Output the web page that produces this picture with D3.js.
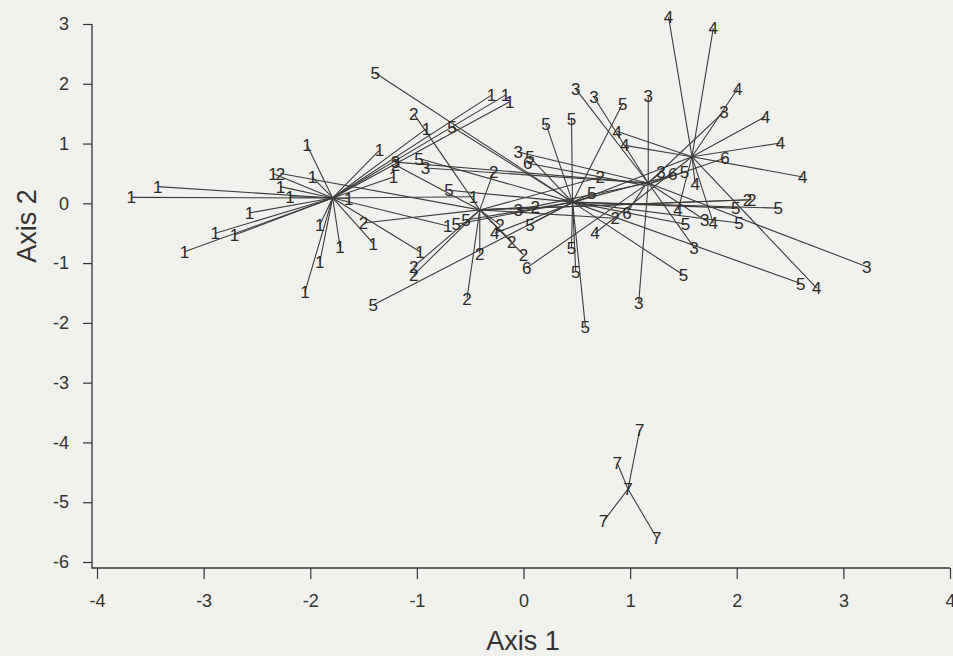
<!DOCTYPE html>
<html lang="en">
<head>
  <meta charset="UTF-8">
  <title>Spider plot</title>
  <script src="https://d3js.org/d3.v7.min.js"></script>
  <style>
    body {
      margin: 0;
      padding: 0;
      background-color: #f1f1ed;
      font-family: "Liberation Sans", Arial, sans-serif;
    }

    .axis text {
      fill: #333;
      font-size: 18px;
    }

    .axis line {
      stroke: #333;
      stroke-width: 1.2;
    }

    .axis-label {
      fill: #333;
      font-size: 27px;
    }

    .spoke {
      stroke: #3c3c3c;
      stroke-width: 1.1;
    }

    .pt {
      fill: #2a2a2a;
      font-size: 17px;
    }
  </style>
</head>

<body>
  <div id="chart"></div>
  <script>
    // group centroids (Axis 1, Axis 2)
    const groups = ["1", "2", "3", "4", "5", "6", "7"];
    const centroidX = [-1.79, -0.41, 1.17, 1.58, 0.46, 1.14, 0.98];
    const centroidY = [0.09, -0.11, 0.34, 0.78, 0.02, 0.30, -4.78];

    // sample scores, one array per group
    const g1x = [-3.68, -3.43, -2.35, -1.98, -2.28, -2.19, -2.03, -1.35, -2.57, -2.89, -2.71, -3.18, -1.91, -1.72, -1.91, -2.05, -1.41, -1.64, -0.30, -0.17, -0.13, -0.91, -0.97, -0.71, -0.47, -1.22];
    const g1y = [0.10, 0.28, 0.50, 0.44, 0.28, 0.11, 0.97, 0.89, -0.16, -0.50, -0.53, -0.81, -0.36, -0.73, -0.98, -1.48, -0.67, 0.08, 1.81, 1.81, 1.70, 1.25, -0.81, -0.38, 0.11, 0.44];
    const g2x = [-2.28, -1.50, -1.03, -0.28, -0.22, -0.11, 0.00, -0.41, -0.53, -1.03, -1.03, 0.11, 0.72, 0.86, 2.10, 2.14, -1.20];
    const g2y = [0.50, -0.33, 1.50, 0.53, -0.36, -0.64, -0.86, -0.84, -1.59, -1.06, -1.20, -0.06, 0.44, -0.25, 0.06, 0.06, 0.64];
    const g3x = [0.49, 0.66, 1.17, 1.08, 1.29, 1.60, 1.88, 1.70, 3.22, -0.05, -0.92, -0.05, -1.20];
    const g3y = [1.91, 1.78, 1.79, -1.67, 0.52, -0.74, 1.53, -0.28, -1.06, 0.86, 0.59, -0.11, 0.69];
    const g4x = [1.36, 1.78, 2.01, 2.27, 2.41, 2.62, 1.61, 1.45, 1.78, 2.75, 0.88, 0.95, 0.67, -0.27];
    const g4y = [3.12, 2.93, 1.92, 1.45, 1.01, 0.44, 0.33, -0.11, -0.33, -1.42, 1.20, 0.97, -0.50, -0.50];
    const g5x = [-1.39, -0.67, 0.21, 0.45, 0.93, 0.45, 0.49, 0.58, 0.06, 0.06, 1.50, 1.52, 2.39, 2.02, 1.99, 2.60, 1.51, 0.64, -0.98, -0.70, -0.63, -0.54, -1.41];
    const g5y = [2.18, 1.28, 1.33, 1.42, 1.67, -0.75, -1.14, -2.06, -0.36, 0.77, -1.20, -0.35, -0.08, -0.33, -0.08, -1.34, 0.52, 0.17, 0.75, 0.22, -0.35, -0.28, -1.70];
    const g6x = [0.04, 0.03, 0.97, 1.40, 1.89];
    const g6y = [0.67, -1.08, -0.16, 0.49, 0.76];
    const g7x = [1.09, 0.88, 0.75, 1.25, 0.98];
    const g7y = [-3.79, -4.35, -5.32, -5.60, -4.77];

    const xTicks = [-4, -3, -2, -1, 0, 1, 2, 3, 4];
    const yTicks = [3, 2, 1, 0, -1, -2, -3, -4, -5, -6];

    const seriesX = [g1x, g2x, g3x, g4x, g5x, g6x, g7x];
    const seriesY = [g1y, g2y, g3y, g4y, g5y, g6y, g7y];

    const points = [];
    groups.forEach((g, i) => {
      seriesX[i].forEach((v, j) => {
        points.push({ group: g, x: v, y: seriesY[i][j], cx: centroidX[i], cy: centroidY[i] });
      });
    });

    const width = 953, height = 656;

    const svg = d3.select("#chart")
      .append("svg")
      .attr("width", width)
      .attr("height", height);

    const x = d3.scaleLinear().domain([-4, 4]).range([97, 950]);
    const y = d3.scaleLinear().domain([-6, 3]).range([562, 24]);

    const axisX = 92, axisY = 568;

    // L-shaped frame
    svg.append("path")
      .attr("d", `M${axisX},${y(3)}V${axisY}H${x(4)}`)
      .attr("fill", "none")
      .attr("stroke", "#333")
      .attr("stroke-width", 1.3);

    // plain hyphen minus, as in the original
    const fmt = d => String(d);

    svg.append("g")
      .attr("class", "axis")
      .attr("transform", `translate(${axisX},0)`)
      .call(d3.axisLeft(y).tickValues(yTicks).tickSize(9).tickPadding(14).tickFormat(fmt))
      .call(g => g.select(".domain").remove());

    svg.append("g")
      .attr("class", "axis")
      .attr("transform", `translate(0,${axisY})`)
      .call(d3.axisBottom(x).tickValues(xTicks).tickSize(11).tickPadding(15).tickFormat(fmt))
      .call(g => g.select(".domain").remove());

    svg.selectAll(".axis text").style("font-family", "'Liberation Sans', Arial, sans-serif");

    // spokes from centroid to each sample
    svg.append("g")
      .selectAll("line")
      .data(points)
      .join("line")
      .attr("class", "spoke")
      .attr("x1", d => x(d.cx))
      .attr("y1", d => y(d.cy))
      .attr("x2", d => x(d.x))
      .attr("y2", d => y(d.y));

    svg.append("g")
      .selectAll("text")
      .data(points)
      .join("text")
      .attr("class", "pt")
      .attr("x", d => x(d.x))
      .attr("y", d => y(d.y))
      .attr("text-anchor", "middle")
      .attr("dy", "0.36em")
      .text(d => d.group);

    svg.append("text")
      .attr("class", "axis-label")
      .attr("x", 523)
      .attr("y", 650)
      .attr("text-anchor", "middle")
      .text("Axis 1");

    svg.append("text")
      .attr("class", "axis-label")
      .attr("transform", "rotate(-90)")
      .attr("x", -226)
      .attr("y", 36)
      .attr("text-anchor", "middle")
      .text("Axis 2");
  </script>
</body>

</html>
